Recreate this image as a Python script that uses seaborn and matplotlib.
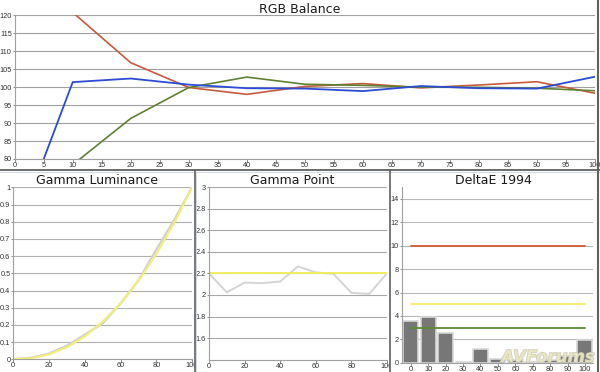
import numpy as np
import pandas as pd
import matplotlib
matplotlib.use("Agg")
import matplotlib.pyplot as plt
import seaborn as sns
from matplotlib.lines import Line2D
from matplotlib.transforms import Bbox, TransformedBbox
import matplotlib.patheffects as pe

# ---------------- data ----------------
levels = [0, 10, 20, 30, 40, 50, 60, 70, 80, 90, 100]
rgb_red = [np.nan, 120.8, 106.8, 99.9, 98.0, 100.2, 101.0, 99.8, 100.6, 101.5, 98.3]
rgb_green = [np.nan, 78.4, 91.3, 99.9, 102.8, 100.8, 100.5, 100.0, 99.95, 99.7, 99.0]
rgb_blue = [58.6, 101.4, 102.4, 100.7, 99.7, 99.6, 98.9, 100.3, 99.7, 99.6, 102.9]

lum_target = [0.0, 0.0063, 0.0290, 0.0707, 0.1332, 0.2176, 0.3250, 0.4563, 0.6121, 0.7932, 1.0]
lum_measured = [0.0, 0.0093, 0.0335, 0.0789, 0.1432, 0.2088, 0.3236, 0.4581, 0.6373, 0.8091, 1.0]

gamma_measured = [2.20, 2.025, 2.115, 2.11, 2.125, 2.265, 2.21, 2.195, 2.02, 2.01, 2.20]
gamma_target = [2.2] * 11

delta_labels = ["0", "10", "20", "30", "40", "50", "60", "70", "80", "90", "100"]
delta_values = [3.6, 3.9, 2.5, 0.1, 1.2, 0.3, 0.2, 0.1, 0.2, 0.6, 1.9]
delta_thresholds = [10, 5, 3]
threshold_colors = ["#cf5a3a", "#f4f06a", "#5e8a33"]

rgb_ticks = list(range(0, 101, 5))
rgb_yticks = list(range(80, 121, 5))
lum_yticks = [round(v * 0.1, 1) for v in range(0, 11)]
gp_yticks = [1.6, 1.8, 2.0, 2.2, 2.4, 2.6, 2.8, 3.0]
de_yticks = [0, 2, 4, 6, 8, 10, 12, 14]

# ---------------- style ----------------
sns.set_theme(style="white")
plt.rcParams['font.family'] = ['DejaVu Sans']

W, H = 600, 372
fig = plt.figure(figsize=(6, 3.72), dpi=100)
fig.patch.set_facecolor("white")

def rect(l, t, r, b):
    return [l / W, 1 - b / H, (r - l) / W, (b - t) / H]

TXT = "#333333"

def style_ax(ax, grid="#a8a8a8"):
    for s in ["top", "right"]:
        ax.spines[s].set_visible(False)
    for s in ["left", "bottom"]:
        ax.spines[s].set_color("#a0a0a0")
        ax.spines[s].set_linewidth(0.8)
    ax.yaxis.grid(True, color=grid, lw=0.8)
    ax.xaxis.grid(False)
    ax.set_axisbelow(True)
    ax.tick_params(axis="both", which="major", labelsize=5.3, colors="#7a7a7a",
                   labelcolor=TXT, length=1.8, width=0.6, pad=0.3,
                   direction="out", left=True, bottom=True)
    for lbl in ax.get_xticklabels() + ax.get_yticklabels():
        lbl.set_fontfamily("Liberation Sans")
    ax.set_xlabel("")
    ax.set_ylabel("")
    ax.set_facecolor("white")

# ---------------- RGB Balance ----------------
ax_top = fig.add_axes(rect(14.7, 15.3, 595, 159))
df_rgb = pd.DataFrame({"level": levels, "R": rgb_red, "G": rgb_green, "B": rgb_blue})
sns.lineplot(data=df_rgb, x="level", y="R", ax=ax_top, color="#c85a3c", lw=1.2)
sns.lineplot(data=df_rgb, x="level", y="G", ax=ax_top, color="#5f8032", lw=1.2)
sns.lineplot(data=df_rgb, x="level", y="B", ax=ax_top, color="#2c4bd6", lw=1.3)
ax_top.set_xlim(0, 100)
ax_top.set_ylim(80, 120)
ax_top.set_xticks(rgb_ticks)
ax_top.set_xticklabels([str(t) for t in rgb_ticks])
ax_top.set_yticks(rgb_yticks)
ax_top.set_yticklabels([str(t) for t in rgb_yticks])
style_ax(ax_top, grid="#a0a0a0")

# ---------------- Gamma Luminance ----------------
ax_lum = fig.add_axes(rect(13.3, 187.3, 192, 359.3))
df_lum = pd.DataFrame({"level": levels, "target": lum_target, "measured": lum_measured})
sns.lineplot(data=df_lum, x="level", y="measured", ax=ax_lum, color="#cfcfcf", lw=1.6)
sns.lineplot(data=df_lum, x="level", y="target", ax=ax_lum, color="#f2ee7a", lw=1.6)
ax_lum.set_xlim(0, 100)
ax_lum.set_ylim(0, 1)
ax_lum.set_xticks([0, 20, 40, 60, 80, 100])
ax_lum.set_xticklabels(["0", "20", "40", "60", "80", "100"])
ax_lum.set_yticks(lum_yticks)
ax_lum.set_yticklabels(["0" if v == 0 else ("1" if v == 1 else f"{v:.1f}") for v in lum_yticks])
style_ax(ax_lum, grid="#b0b0b0")

# ---------------- Gamma Point ----------------
ax_gp = fig.add_axes(rect(209, 187.3, 387, 359.6))
df_gp = pd.DataFrame({"level": levels, "measured": gamma_measured, "target": gamma_target})
sns.lineplot(data=df_gp, x="level", y="measured", ax=ax_gp, color="#d4d4d4", lw=1.4)
sns.lineplot(data=df_gp, x="level", y="target", ax=ax_gp, color="#f2ee60", lw=1.4)
ax_gp.set_xlim(0, 100)
ax_gp.set_ylim(1.4, 3.0)
ax_gp.set_xticks([0, 20, 40, 60, 80, 100])
ax_gp.set_xticklabels(["0", "20", "40", "60", "80", "100"])
ax_gp.set_yticks(gp_yticks)
ax_gp.set_yticklabels(["2" if v == 2 else ("3" if v == 3 else f"{v:.1f}") for v in gp_yticks])
style_ax(ax_gp, grid="#a8a8a8")

# ---------------- DeltaE 1994 ----------------
ax_de = fig.add_axes(rect(401.7, 187.3, 593, 362.7))
df_de = pd.DataFrame({"level": delta_labels, "dE": delta_values})
sns.barplot(data=df_de, x="level", y="dE", ax=ax_de, color="#777777",
            saturation=1, width=0.86, edgecolor="#d8d8d8", linewidth=1.2)
for thr, col in zip(delta_thresholds, threshold_colors):
    ax_de.plot([0, len(delta_labels) - 1], [thr, thr], color=col, lw=1.3, zorder=3)
ax_de.set_xlim(-0.52, 10.46)
ax_de.set_ylim(0, 15)
ax_de.set_yticks(de_yticks)
ax_de.set_yticklabels([str(v) for v in de_yticks])
style_ax(ax_de, grid="#b8b8b8")

# watermark
wm = fig.text(548 / W, 1 - 357 / H, "AVForums", ha="center", va="center",
              fontsize=12, fontweight="bold", fontstyle="italic",
              color="#ece8c0", alpha=0.75, zorder=20)
wm.set_path_effects([pe.withStroke(linewidth=1.0, foreground="#c0c0b4")])

# ---------------- titles ----------------
fig.text(300 / W, 1 - 9.5 / H, "RGB Balance", ha="center", va="center", fontsize=9, color="#1a1a1a")
fig.text(97 / W, 1 - 180 / H, "Gamma Luminance", ha="center", va="center", fontsize=9, color="#1a1a1a")
fig.text(292 / W, 1 - 180 / H, "Gamma Point", ha="center", va="center", fontsize=9, color="#1a1a1a")
fig.text(493 / W, 1 - 180 / H, "DeltaE 1994", ha="center", va="center", fontsize=9, color="#1a1a1a")

# clip tick labels to their panels
fig.canvas.draw()
panels = {ax_lum: (0, 171, 194.5, 372), ax_gp: (196, 171, 390, 372), ax_de: (391, 171, 597, 372)}
for ax, (l, t, r, b) in panels.items():
    bb = TransformedBbox(Bbox([[l / W, 1 - b / H], [r / W, 1 - t / H]]), fig.transFigure)
    for lbl in ax.get_xticklabels() + ax.get_yticklabels():
        lbl.set_clip_on(True)
        lbl.set_clip_box(bb)

# ---------------- frame lines ----------------
def fline(x0, y0, x1, y1, color, lw):
    fig.add_artist(Line2D([x0 / W, x1 / W], [1 - y0 / H, 1 - y1 / H],
                          transform=fig.transFigure, color=color, lw=lw, zorder=30))

DARK = "#606060"
LIGHT = "#ccd3dc"
fline(0, 170, 600, 170, DARK, 1.3)
fline(0, 171.8, 600, 171.8, LIGHT, 0.6)
fline(195, 170, 195, 372, DARK, 1.2)
fline(196.4, 172, 196.4, 372, LIGHT, 0.6)
fline(390.3, 170, 390.3, 372, DARK, 1.2)
fline(597.5, 0, 597.5, 372, DARK, 1.5)

fig.savefig("out.png", dpi=100, facecolor="white")
